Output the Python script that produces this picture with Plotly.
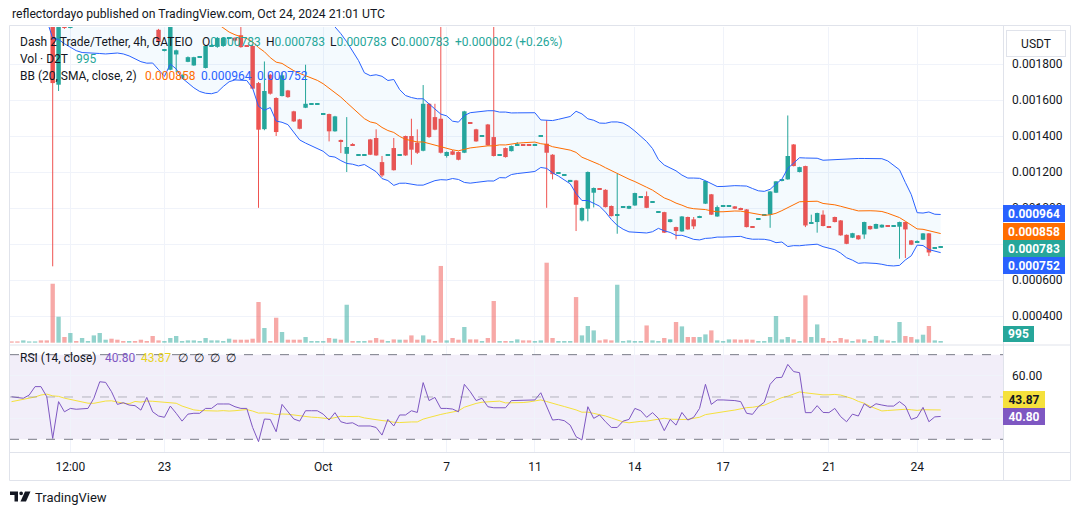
import numpy as np
import pandas as pd
import plotly.graph_objects as go

W, H = 1080, 515
UNIT = 1e-6            # all prices below are in millionths of USDT
FONT = "Roboto"
TXT = "#131722"
UP, DN = "#26a69a", "#ef5350"

# ---------------- data ----------------
tick_index = [10, 26, 53, 74, 89, 106, 121, 139, 154]
tick_labels = ["12:00", "23", "Oct", "7", "11", "14", "17", "21", "24"]
price_ticks_e6 = [400, 600, 800, 1000, 1200, 1400, 1600, 1800]

# closes of the 20 bars left of the visible range (only feed the Bollinger window)
warmup_close_e6 = [2094, 2166, 2240, 2322, 2415, 2519, 2627, 2679, 2519, 2359,
                   2277, 2251, 2249, 2248, 2243, 2235, 2227, 2219, 2204, 2189]

open_e6 = [2200, 2210, 2200, 2215, 2232, 2320, 2410, 2400, 1685, 2030,
           2002, 2500, 2450, 2390, 2395, 2390, 2440, 2400, 2300, 2200,
           2070, 2080, 2060, 2130, 2300, 1990, 1874, 1768, 1853, 1722,
           1812, 1792, 1836, 1778, 1900, 1895, 1900, 1943, 1946, 1960,
           1902, 1900, 1694, 1438, 1740, 1611, 1622, 1653, 1537, 1492,
           1557, 1578, 1578, 1523, 1522, 1426, 1378, 1301, 1354, 1291,
           1295, 1381, 1389, 1255, 1291, 1333, 1291, 1400, 1400, 1363,
           1318, 1579, 1505, 1496, 1289, 1315, 1311, 1307, 1474, 1437,
           1397, 1464, 1394, 1291, 1333, 1316, 1350, 1349, 1349, 1352,
           1397, 1357, 1296, 1195, 1180, 1152, 1153, 931, 996, 1085,
           1108, 1101, 1011, 958, 1004, 996, 1014, 1060, 1066, 1032,
           976, 977, 922, 894, 870, 950, 937, 946, 1024, 1076,
           953, 1008, 1008, 1009, 1000, 992, 896, 936, 962, 963,
           1085, 1150, 1159, 1353, 1200, 1233, 914, 922, 963, 896,
           950, 931, 851, 835, 848, 853, 900, 885, 892, 902,
           899, 896, 922, 820, 809, 824, 859, 779, 783]
high_e6 = [2210, 2220, 2225, 2242, 2265, 2330, 2420, 2420, 2100, 2045,
           2060, 2510, 2475, 2415, 2414, 2412, 2476, 2410, 2310, 2210,
           2091, 2090, 2070, 2140, 2310, 1995, 1880, 2050, 1880, 1745,
           1842, 1840, 1840, 1905, 1910, 1950, 1950, 1950, 1948, 2010,
           1905, 1905, 1700, 1814, 1745, 1615, 1756, 1656, 1540, 1495,
           1796, 1582, 1582, 1527, 1524, 1512, 1380, 1505, 1360, 1295,
           1299, 1384, 1437, 1289, 1295, 1389, 1295, 1402, 1496, 1437,
           1683, 1582, 1579, 2300, 1314, 1322, 1314, 1540, 1476, 1440,
           1401, 1467, 2300, 1295, 1336, 1347, 1366, 1351, 1351, 1356,
           1401, 1487, 1299, 1199, 1184, 1156, 1156, 1003, 1203, 1114,
           1110, 1104, 1014, 1190, 1008, 1013, 1085, 1064, 1092, 1036,
           980, 979, 939, 896, 955, 952, 950, 957, 1152, 1078,
           1014, 1012, 1012, 1011, 1002, 994, 898, 940, 966, 1094,
           1150, 1159, 1514, 1355, 1229, 1235, 963, 974, 987, 898,
           952, 933, 853, 862, 850, 924, 902, 913, 909, 904,
           902, 924, 924, 822, 820, 861, 861, 783, 783]
low_e6 = [2175, 2187, 2190, 2205, 2222, 2296, 2389, 676, 1650, 1995,
          1998, 2478, 2440, 2380, 2385, 2380, 2430, 2358, 2220, 2125,
          2060, 2037, 2039, 2108, 2278, 1915, 1870, 1765, 1755, 1715,
          1810, 1790, 1834, 1775, 1898, 1890, 1895, 1940, 1925, 1890,
          1895, 1660, 1001, 1432, 1630, 1400, 1620, 1612, 1478, 1437,
          1555, 1576, 1576, 1521, 1370, 1424, 1305, 1200, 1348, 1289,
          1293, 1294, 1290, 1172, 1289, 1208, 1289, 1290, 1240, 1300,
          1315, 1390, 1432, 1303, 1280, 1294, 1265, 1305, 1468, 1368,
          1395, 1346, 1286, 1289, 1280, 1314, 1349, 1345, 1345, 1350,
          1395, 1001, 1159, 1193, 1178, 1150, 872, 925, 926, 1003,
          1104, 1003, 953, 857, 1002, 994, 1012, 1058, 999, 1030,
          974, 861, 920, 826, 868, 879, 883, 944, 1022, 961,
          951, 1006, 1006, 994, 991, 892, 890, 934, 960, 890,
          1083, 1148, 1157, 1231, 1198, 894, 912, 863, 898, 892,
          920, 846, 799, 833, 824, 829, 879, 883, 890, 897,
          897, 718, 722, 794, 808, 822, 733, 777, 783]
close_e6 = [2185, 2197, 2215, 2232, 2255, 2306, 2399, 1694, 2040, 2000,
            2008, 2488, 2465, 2405, 2404, 2402, 2466, 2368, 2230, 2135,
            2081, 2047, 2049, 2118, 2288, 1922, 1878, 2030, 1876, 1738,
            1838, 1838, 1840, 1900, 1905, 1945, 1945, 1946, 1930, 1894,
            1898, 1663, 1435, 1650, 1635, 1422, 1737, 1616, 1481, 1440,
            1579, 1580, 1580, 1525, 1426, 1509, 1372, 1339, 1350, 1293,
            1297, 1296, 1292, 1181, 1293, 1210, 1293, 1292, 1324, 1307,
            1579, 1394, 1435, 1307, 1311, 1296, 1268, 1537, 1470, 1370,
            1399, 1348, 1289, 1293, 1283, 1344, 1353, 1347, 1347, 1354,
            1399, 1307, 1188, 1197, 1182, 1154, 1018, 1000, 1200, 1111,
            1106, 1005, 955, 965, 1006, 1011, 1083, 1062, 1001, 1034,
            978, 863, 937, 872, 953, 881, 898, 955, 1150, 963,
            1005, 1010, 1010, 996, 993, 894, 892, 938, 964, 1092,
            1148, 1157, 1289, 1233, 1227, 903, 918, 972, 900, 894,
            922, 848, 801, 860, 826, 922, 882, 911, 907, 899,
            900, 922, 881, 796, 813, 859, 753, 781, 783]
volume = [760, 760, 1350, 760, 760, 1350, 1350, 34500, 15200, 3330,
          5670, 1000, 2750, 1000, 4270, 5670, 1750, 2340, 1750, 1000,
          1000, 1000, 1750, 1000, 3920, 1350, 1000, 2750, 3920, 1000,
          1350, 1350, 1000, 2750, 1350, 1350, 1000, 2340, 1750, 1750,
          1750, 2340, 23800, 8600, 1000, 14600, 6260, 1750, 1750, 1750,
          3330, 1000, 1000, 1000, 2750, 2340, 1750, 22200, 1000, 1000,
          1000, 1350, 2750, 1750, 1000, 1930, 1750, 1750, 4270, 1750,
          4270, 1930, 1000, 44900, 1350, 2750, 1750, 9180, 1930, 1930,
          1000, 2750, 24400, 1000, 1000, 1000, 1930, 1350, 1350, 1000,
          1350, 46800, 2750, 1000, 1000, 1000, 26700, 4270, 9770, 7200,
          1350, 1930, 1350, 33900, 1000, 1350, 1000, 1000, 10100, 1350,
          1000, 2750, 1930, 12100, 9540, 3330, 3330, 3330, 4860, 7200,
          1350, 1000, 1930, 1930, 1750, 1930, 1750, 1000, 1000, 3330,
          15600, 1930, 3330, 1930, 1000, 27700, 3330, 10700, 2750, 1000,
          1000, 2750, 1930, 1000, 1930, 1930, 1000, 3920, 1750, 1350,
          1000, 12100, 3920, 3330, 1930, 4680, 9770, 1350, 995]
rsi_warmup = [42, 44, 43, 45, 42, 44, 42, 51, 55, 53, 52, 54, 52]
rsi = [50.1, 49.7, 49.4, 50.9, 54.9, 54.9, 50.1, 30.4, 47.8, 43.0,
       44.6, 44.2, 44.3, 44.6, 49.4, 57.2, 56.9, 52.5, 46.5, 47.3,
       46.2, 45.9, 43.8, 49.8, 43.0, 41.0, 40.4, 45.7, 42.3, 38.6,
       41.9, 42.3, 42.3, 44.6, 44.6, 46.7, 46.7, 46.7, 45.4, 44.6,
       44.6, 35.6, 28.9, 39.6, 39.4, 33.6, 46.5, 43.0, 39.6, 38.6,
       43.5, 43.5, 43.5, 41.9, 39.1, 42.6, 38.3, 37.5, 37.8, 36.3,
       36.3, 36.3, 35.6, 32.0, 39.4, 36.3, 41.5, 41.5, 43.5, 42.7,
       56.8, 48.3, 49.8, 44.6, 44.6, 44.3, 43.0, 56.0, 52.5, 48.3,
       49.4, 45.4, 44.9, 44.9, 44.9, 48.3, 48.4, 48.4, 48.6, 48.6,
       52.0, 45.2, 39.1, 39.4, 38.8, 36.7, 31.2, 29.7, 45.4, 39.9,
       41.5, 38.3, 35.6, 35.6, 38.6, 39.4, 44.6, 43.5, 40.4, 42.6,
       39.9, 34.1, 39.4, 36.7, 42.7, 39.1, 40.4, 44.6, 56.0, 46.5,
       48.6, 48.6, 48.6, 48.3, 47.8, 42.3, 41.8, 45.4, 47.5, 56.0,
       59.1, 59.3, 65.4, 62.0, 61.5, 42.6, 42.6, 45.9, 42.7, 42.6,
       44.6, 40.7, 38.3, 41.9, 41.0, 46.8, 44.9, 46.8, 46.2, 45.7,
       45.7, 47.8, 45.7, 39.4, 40.4, 45.1, 38.3, 40.6, 40.8]

n = len(close_e6)
for arr in (open_e6, high_e6, low_e6, volume, rsi):
    assert len(arr) == n, len(arr)

# ---------------- indicators ----------------
x = np.arange(n)
o = np.array(open_e6, float) * UNIT
h = np.array(high_e6, float) * UNIT
l = np.array(low_e6, float) * UNIT
c = np.array(close_e6, float) * UNIT
vol = np.array(volume, float)

all_close = pd.Series(warmup_close_e6 + close_e6, dtype=float) * UNIT
bb_mid = all_close.rolling(20).mean().to_numpy()[len(warmup_close_e6):]
bb_sd = all_close.rolling(20).std(ddof=0).to_numpy()[len(warmup_close_e6):]
bb_up = bb_mid + 2 * bb_sd
bb_lo = bb_mid - 2 * bb_sd

rsi_all = pd.Series(rsi_warmup + rsi, dtype=float)
rsi_ma = rsi_all.rolling(14).mean().to_numpy()[len(rsi_warmup):]

# ---------------- layout constants (pixels) ----------------
PL, PR = 10, 1003
MAIN_T, MAIN_B = 27, 344
RSI_T, RSI_B = 346, 452
PX_PRICE = 0.0002 / 36.0
Y_RANGE = [0.0008 - (MAIN_B - 244) * PX_PRICE, 0.0008 + (244 - MAIN_T) * PX_PRICE]
X_RANGE = [-0.26, 168.6]
VOL_PER_PX = 585.0
VOL_RANGE = [-1.3 * VOL_PER_PX, (MAIN_B - MAIN_T - 1.3) * VOL_PER_PX]
RSI_RANGE = [24.0, 74.1]


def px(v):
    return v / W


def py(v):
    return 1 - v / H


up = c >= o
col = np.where(up, UP, DN)
vcol = np.where(up, "rgba(38,166,154,0.5)", "rgba(239,83,80,0.5)")
min_body = 1.1 * PX_PRICE
body_lo = np.minimum(o, c)
body_h = np.abs(c - o)
small = body_h < min_body
base = np.where(small, (o + c) / 2 - min_body / 2, body_lo)
body_h = np.where(small, min_body, body_h)

fig = go.Figure()
fig.add_trace(go.Scatter(x=x, y=bb_up, mode="lines", line=dict(width=0, color="rgba(0,0,0,0)"),
                         hoverinfo="skip", showlegend=False))
fig.add_trace(go.Scatter(x=x, y=bb_lo, mode="lines", line=dict(width=0, color="rgba(0,0,0,0)"),
                         fill="tonexty", fillcolor="rgba(33,150,243,0.05)", hoverinfo="skip", showlegend=False))

for flag, colr in ((True, UP), (False, DN)):
    wx, wy = [], []
    for i in np.where(up == flag)[0]:
        wx += [i, i, None]
        wy += [l[i], h[i], None]
    fig.add_trace(go.Scatter(x=wx, y=wy, mode="lines", line=dict(color=colr, width=1),
                             hoverinfo="skip", showlegend=False))
fig.add_trace(go.Bar(x=x, y=body_h, base=base, width=0.76, marker=dict(color=col, line=dict(width=0)),
                     hoverinfo="skip", showlegend=False))

fig.add_trace(go.Scatter(x=x, y=bb_up, mode="lines", line=dict(color="#2962ff", width=1), hoverinfo="skip", showlegend=False))
fig.add_trace(go.Scatter(x=x, y=bb_lo, mode="lines", line=dict(color="#2962ff", width=1), hoverinfo="skip", showlegend=False))
fig.add_trace(go.Scatter(x=x, y=bb_mid, mode="lines", line=dict(color="#ff6d00", width=1), hoverinfo="skip", showlegend=False))

fig.add_trace(go.Bar(x=x, y=vol, width=0.74, marker=dict(color=vcol, line=dict(width=0)), yaxis="y3",
                     hoverinfo="skip", showlegend=False))

fig.add_trace(go.Scatter(x=x, y=rsi_ma, mode="lines", line=dict(color="#f5e13c", width=1), xaxis="x2", yaxis="y2",
                         hoverinfo="skip", showlegend=False))
fig.add_trace(go.Scatter(x=x, y=rsi, mode="lines", line=dict(color="#7e57c2", width=1), xaxis="x2", yaxis="y2",
                         hoverinfo="skip", showlegend=False))

grid = "#f0f3fa"
axfont = dict(family=FONT, size=12, color=TXT)
fig.update_layout(
    width=W, height=H, margin=dict(l=0, r=0, t=0, b=0),
    paper_bgcolor="white", plot_bgcolor="white", showlegend=False, barmode="overlay",
    xaxis=dict(domain=[px(PL), px(PR)], range=X_RANGE, anchor="y", tickmode="array", tickvals=tick_index,
               ticktext=tick_labels, showticklabels=False, showgrid=True, gridcolor=grid, zeroline=False,
               showline=False, ticks=""),
    yaxis=dict(domain=[py(MAIN_B), py(MAIN_T)], range=Y_RANGE, side="right", tickmode="array",
               tickvals=[v * UNIT for v in price_ticks_e6], ticktext=[f"{v * UNIT:.6f}" for v in price_ticks_e6],
               showgrid=True, gridcolor=grid, zeroline=False, showline=False, ticks="", tickfont=axfont,
               ticklabelstandoff=8),
    yaxis3=dict(overlaying="y", anchor="x", range=VOL_RANGE, visible=False),
    xaxis2=dict(domain=[px(PL), px(PR)], range=X_RANGE, anchor="y2", matches="x", tickmode="array",
                tickvals=tick_index, ticktext=tick_labels, showgrid=True, gridcolor=grid, zeroline=False,
                showline=False, ticks="", tickfont=axfont, ticklabelstandoff=6),
    yaxis2=dict(domain=[py(RSI_B), py(RSI_T)], range=RSI_RANGE, side="right", tickmode="array",
                tickvals=[40, 60], ticktext=["", "60.00"], showgrid=True, gridcolor=grid, zeroline=False,
                showline=False, ticks="", tickfont=axfont, ticklabelstandoff=8),
)

shapes = []
shapes.append(dict(type="rect", xref="x2 domain", yref="y2", x0=0, x1=1, y0=30, y1=70,
                   fillcolor="rgba(126,87,194,0.1)", line=dict(width=0), layer="below"))
for lvl, lc in ((70, "#787b86"), (50, "rgba(120,123,134,0.5)"), (30, "#787b86")):
    shapes.append(dict(type="line", xref="x2 domain", yref="y2", x0=0, x1=1, y0=lvl, y1=lvl,
                       line=dict(color=lc, width=1, dash="dash"), layer="above"))
sep = "#e0e3eb"
shapes.append(dict(type="rect", xref="paper", yref="paper", x0=px(9.5), x1=px(1070.5), y0=py(480.5), y1=py(25.5),
                   line=dict(color=sep, width=1)))
for yy in (345, 452.5):
    shapes.append(dict(type="line", xref="paper", yref="paper", x0=px(9.5), x1=px(1070.5), y0=py(yy), y1=py(yy),
                       line=dict(color=sep, width=1)))
shapes.append(dict(type="line", xref="paper", yref="paper", x0=px(1003.5), x1=px(1003.5), y0=py(25.5), y1=py(480.5),
                   line=dict(color=sep, width=1)))


def path(pts):
    return "M " + " L ".join(f"{px(a):.5f},{py(b):.5f}" for a, b in pts) + " Z"


shapes.append(dict(type="path", xref="paper", yref="paper",
                   path=path([(10, 491.5), (18, 491.5), (18, 501.5), (14.5, 501.5), (14.5, 495), (10, 495)]),
                   fillcolor=TXT, line=dict(width=0)))
shapes.append(dict(type="circle", xref="paper", yref="paper", x0=px(19.3), x1=px(23), y0=py(495.2), y1=py(491.5),
                   fillcolor=TXT, line=dict(width=0)))
shapes.append(dict(type="path", xref="paper", yref="paper",
                   path=path([(25, 491.5), (30.5, 491.5), (26, 501.5), (20.5, 501.5)]),
                   fillcolor=TXT, line=dict(width=0)))

ann = []


def text(t, x0, y0, size=12, color=TXT, xanchor="left", **kw):
    ann.append(dict(text=t, x=px(x0), y=py(y0), xref="paper", yref="paper", xanchor=xanchor, yanchor="middle",
                    showarrow=False, font=dict(family=FONT, size=size, color=color), **kw))


def box(t, x0, yc, w, hgt, bg, fg="white", size=12):
    ann.append(dict(text=t, x=px(x0), y=py(yc), xref="paper", yref="paper", xanchor="left", yanchor="middle",
                    showarrow=False, width=w, height=hgt, bgcolor=bg, borderpad=0, borderwidth=0, align="center",
                    font=dict(family=FONT, size=size, color=fg)))


def fmt(v):
    return f"{v:.6f}"


chg = c[-1] - c[-2]
pct = chg / c[-2] * 100
text("reflectordayo published on TradingView.com, Oct 24, 2024 21:01 UTC", 10, 14, size=12.2)
text("Dash 2 Trade/Tether, 4h, GATEIO", 18, 41.7)
for lab, val, xx in (("O", o[-1], 200), ("H", h[-1], 264), ("L", l[-1], 328), ("C", c[-1], 389)):
    text(f"{lab}<span style='color:{UP}'>{fmt(val)}</span>", xx, 41.7)
text(f"{'+' if chg >= 0 else '-'}{abs(chg):.6f} ({'+' if pct >= 0 else '-'}{abs(pct):.2f}%)", 453, 41.7, color=UP)
text("Vol · D2T", 18, 59)
text(f"{int(vol[-1])}", 74, 59, color=UP)
text("BB (20, SMA, close, 2)", 18, 76)
text(fmt(bb_mid[-1]), 143, 76, color="#ff6d00")
text(fmt(bb_up[-1]), 199, 76, color="#2962ff")
text(fmt(bb_lo[-1]), 255, 76, color="#2962ff")
text("RSI (14, close)", 18, 357.5)
text(f"{rsi[-1]:.2f}", 102.5, 357.5, color="#7e57c2")
text(f"{rsi_ma[-1]:.2f}", 139, 357.5, color="#e8d21d")
for xx in (176, 192, 208, 224):
    text("∅", xx, 357.5, color=TXT)

box(f"<b>{fmt(bb_up[-1])}</b>", 1003, 213.5, 62, 17, "#2962ff")
box(f"<b>{fmt(bb_mid[-1])}</b>", 1003, 231, 62, 17, "#ff6d00")
box(f"<b>{fmt(c[-1])}</b>", 1003, 248.5, 62, 17, UP)
box(f"<b>{fmt(bb_lo[-1])}</b>", 1003, 265.5, 62, 17, "#2962ff")
box(f"<b>{int(vol[-1])}</b>", 1003, 334, 31, 16, UP)
box(f"<b>{rsi_ma[-1]:.2f}</b>", 1003, 399.5, 42, 17, "#f5e13c", fg=TXT)
box(f"<b>{rsi[-1]:.2f}</b>", 1003, 416.5, 42, 17, "#7e57c2")
ann.append(dict(text="USDT", x=px(1036), y=py(44), xref="paper", yref="paper", xanchor="center", yanchor="middle",
                showarrow=False, width=56, height=23, bgcolor="white", bordercolor="#e0e3eb", borderwidth=1,
                font=dict(family=FONT, size=12, color=TXT)))
text("TradingView", 33, 497, size=13)

fig.update_layout(shapes=shapes, annotations=ann)
fig.write_html("out.html", config={"displayModeBar": False},
               post_script="document.body.style.margin='0px';")
